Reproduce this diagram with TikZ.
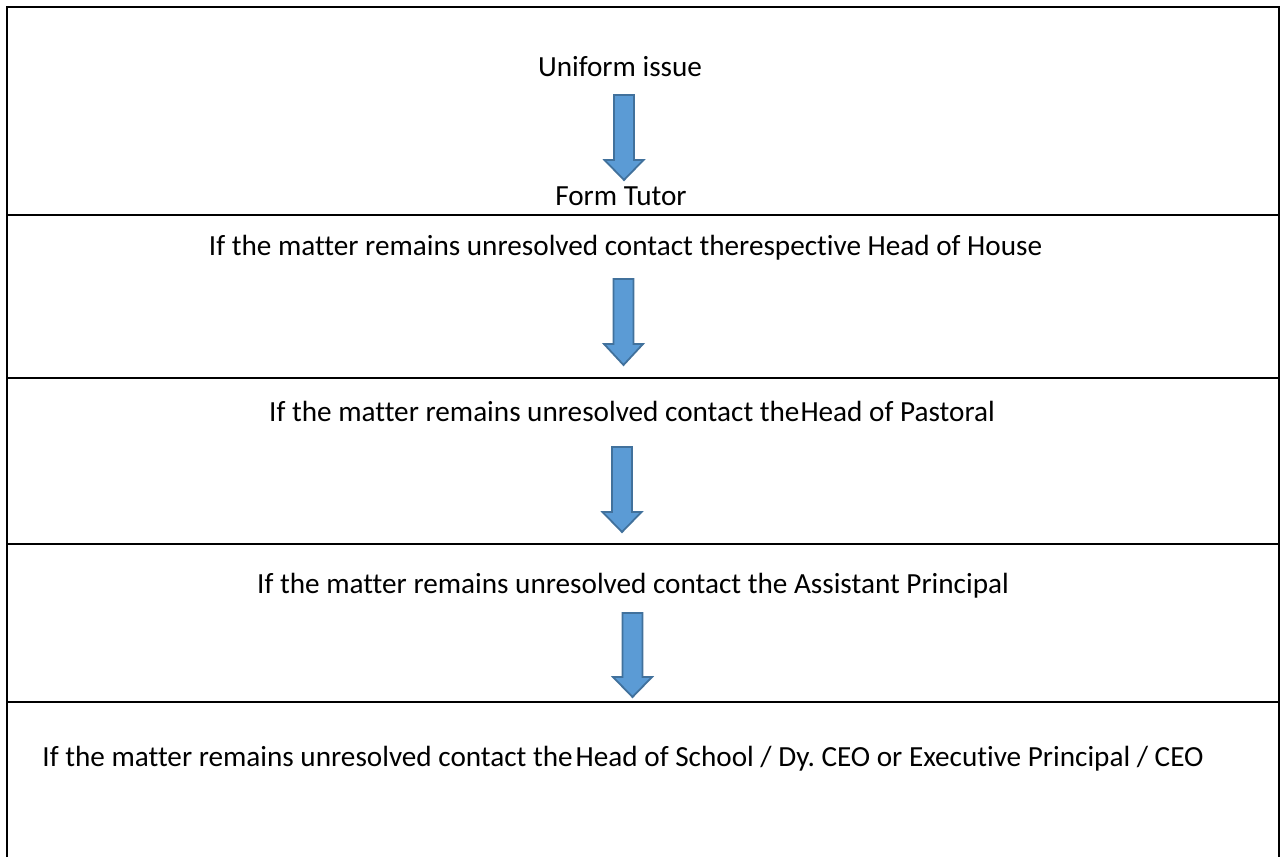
\documentclass[tikz,border=0pt]{standalone}
\usepackage{fontspec}
\setmainfont{Carlito}[Ligatures=NoCommon]
\usepackage{xcolor}
\definecolor{arrowfill}{RGB}{91,155,213}
\definecolor{arrowline}{RGB}{65,113,156}
\frenchspacing

\begin{document}
\begin{tikzpicture}[x=0.5pt, y=-0.5pt]
    \tikzstyle{step text} = [anchor=base, inner sep=0pt, font=\fontsize{14.6}{17}\selectfont]
    \tikzstyle{flow arrow} = [fill=arrowfill, draw=arrowline, line width=0.9pt, line join=miter]
    \useasboundingbox (0,0) rectangle (1284,857);

    % outer frame (open at the bottom)
    \draw[line width=1pt] (7,857) -- (7,7) -- (1279,7) -- (1279,857);
    \coordinate (s1l) at (7,215);  \coordinate (s1r) at (1279,215);
    \coordinate (s2l) at (7,378);  \coordinate (s2r) at (1279,378);
    \coordinate (s3l) at (7,544);  \coordinate (s3r) at (1279,544);
    \coordinate (s4l) at (7,702);  \coordinate (s4r) at (1279,702);
    \draw[line width=1.4pt] (s1l) -- (s1r);
    \draw[line width=0.7pt] (s2l) -- (s2r);
    \draw[line width=0.7pt] (s3l) -- (s3r);
    \draw[line width=0.7pt] (s4l) -- (s4r);

    \node[step text] (issue) at (620,76) {Uniform issue};
    \node[step text] (tutor) at (621,205) {Form Tutor};
    \node[step text] (house) at (625.5,255) {If the matter remains unresolved contact therespective Head of House};
    \node[step text] (pastoral) at (632,421) {If the matter remains unresolved contact the\kern0.5pt Head of Pastoral};
    \node[step text] (assistant) at (633,593) {If the matter remains unresolved contact the Assistant Principal};
    \node[step text] (school) at (623,766) {If the matter remains unresolved contact the\kern1.5pt Head of School / Dy. CEO or Executive Principal / CEO};

    % block arrows: centre x / top / head start / tip
    \foreach \cx/\top/\hd/\tip in {624/95/160/180, 623.5/279/344/365, 622/447/512/532, 632.5/613/677/697}
        \draw[flow arrow] (\cx-10,\top) -- (\cx+10,\top) -- (\cx+10,\hd) -- (\cx+19.5,\hd)
            -- (\cx,\tip) -- (\cx-19.5,\hd) -- (\cx-10,\hd) -- cycle;
\end{tikzpicture}
\end{document}
